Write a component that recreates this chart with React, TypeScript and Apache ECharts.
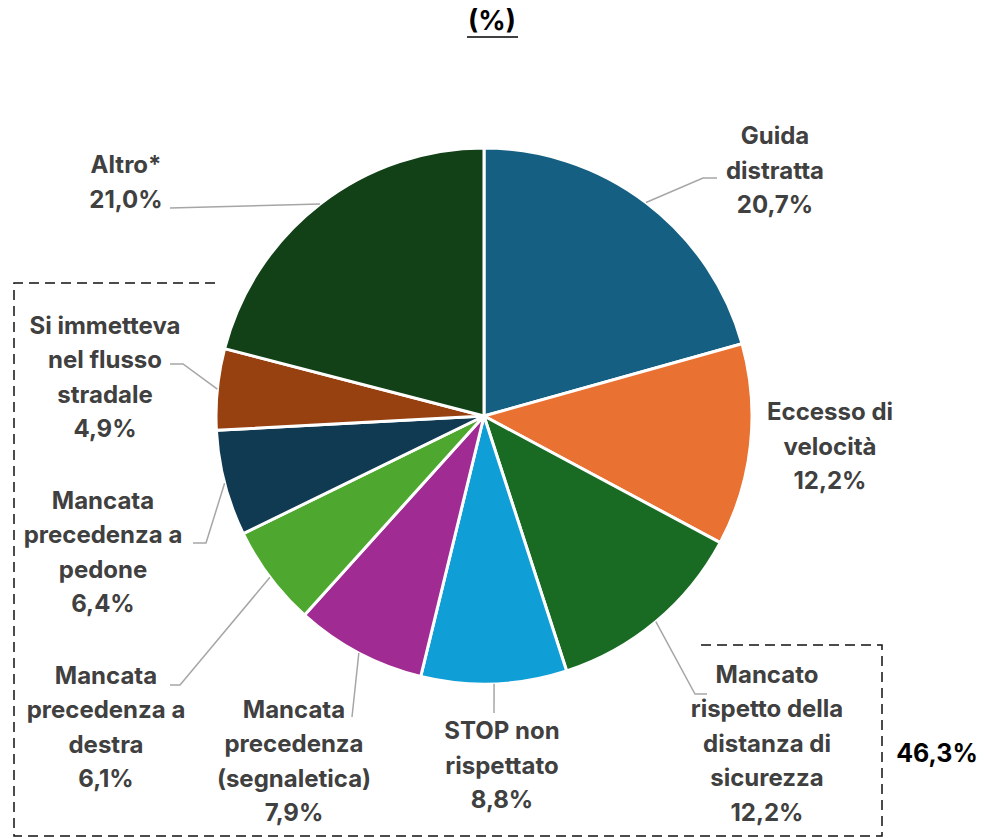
import React, { useEffect, useRef } from "react";
import * as echarts from "echarts";

const categories = [
  "Guida\ndistratta",
  "Eccesso di\nvelocità",
  "Mancato\nrispetto della\ndistanza di\nsicurezza",
  "STOP non\nrispettato",
  "Mancata\nprecedenza\n(segnaletica)",
  "Mancata\nprecedenza a\ndestra",
  "Mancata\nprecedenza a\npedone",
  "Si immetteva\nnel flusso\nstradale",
  "Altro*",
];
const values = [20.7, 12.2, 12.2, 8.8, 7.9, 6.1, 6.4, 4.9, 21.0];
const colors = [
  "#156082",
  "#E97132",
  "#196B24",
  "#0F9ED5",
  "#A02B93",
  "#4EA72E",
  "#0F3A51",
  "#974010",
  "#124117",
];
const titleText = "(%)";
const groupTotal = "46,3%";

// layout (not data): label centres and leader-line bend/end points
const CENTER: [number, number] = [484, 416];
const RADIUS = 268;
const labelPos: [number, number][] = [
  [775, 170],
  [830, 446],
  [767, 743],
  [502, 765],
  [294, 761],
  [106, 727],
  [103, 552],
  [105, 377],
  [126, 182],
];
const leaderEnds: [number, number][][] = [
  [[703, 178], [717, 178]],
  [],
  [[695, 694], [707, 694]],
  [[494, 713]],
  [[352, 717]],
  [[180, 685], [170, 685]],
  [[206, 543], [193, 543]],
  [[183, 364], [170, 364]],
  [[170, 208]],
];

const fmt = (v: number) => v.toFixed(1).replace(".", ",") + "%";

export default function App() {
  const ref = useRef<HTMLDivElement>(null);
  useEffect(() => {
    document.body.style.margin = "0";
    const chart = echarts.init(ref.current!, null, { renderer: "svg" });
    const font = "Inter, 'Noto Sans', sans-serif";

    // leader line start points from slice mid-angles
    const total = values.reduce((a, b) => a + b, 0);
    let cum = 0;
    const leaders: any[] = [];
    values.forEach((v, i) => {
      const mid = ((cum + v / 2) / total) * Math.PI * 2;
      cum += v;
      if (!leaderEnds[i].length) return;
      const sx = CENTER[0] + RADIUS * Math.sin(mid);
      const sy = CENTER[1] - RADIUS * Math.cos(mid);
      leaders.push({
        type: "polyline",
        z: 10,
        shape: { points: [[sx, sy], ...leaderEnds[i]] },
        style: { stroke: "#A6A6A6", lineWidth: 1.5, fill: null },
      });
    });

    chart.setOption({
      animation: false,
      backgroundColor: "#ffffff",
      graphic: [
        {
          type: "text",
          x: 492,
          y: 20,
          style: {
            text: titleText,
            font: `bold 27px ${font}`,
            fill: "#000",
            align: "center",
            verticalAlign: "middle",
          },
        },
        {
          type: "line",
          shape: { x1: 467, y1: 37, x2: 518, y2: 37 },
          style: { stroke: "#000", lineWidth: 1.5 },
        },
        {
          type: "polyline",
          shape: {
            points: [
              [215, 283],
              [14, 283],
              [14, 836],
              [882, 836],
              [882, 645],
              [700, 645],
            ],
          },
          style: { stroke: "#111", lineWidth: 1.5, lineDash: [10, 6], fill: null },
        },
        {
          type: "text",
          x: 937,
          y: 753,
          style: {
            text: groupTotal,
            font: `bold 25px ${font}`,
            fill: "#000",
            align: "center",
            verticalAlign: "middle",
          },
        },
        ...leaders,
      ],
      series: [
        {
          type: "pie",
          center: CENTER,
          radius: RADIUS,
          startAngle: 90,
          clockwise: true,
          avoidLabelOverlap: false,
          itemStyle: { borderColor: "#fff", borderWidth: 3 },
          label: {
            show: true,
            position: "outside",
            formatter: (p: any) => `${p.name}\n${fmt(p.value)}`,
            color: "#404040",
            fontFamily: font,
            fontWeight: "bold",
            fontSize: 24,
            lineHeight: 34.5,
            align: "center",
          },
          labelLine: { show: false },
          labelLayout: (params: any) => {
            const pos = labelPos[params.dataIndex];
            return {
              x: pos[0],
              y: pos[1],
              align: "center",
              verticalAlign: "middle",
            };
          },
          data: values.map((v, i) => ({
            name: categories[i],
            value: v,
            itemStyle: { color: colors[i] },
          })),
        },
      ],
    });
    return () => chart.dispose();
  }, []);
  return <div ref={ref} style={{ width: 984, height: 839 }} />;
}
